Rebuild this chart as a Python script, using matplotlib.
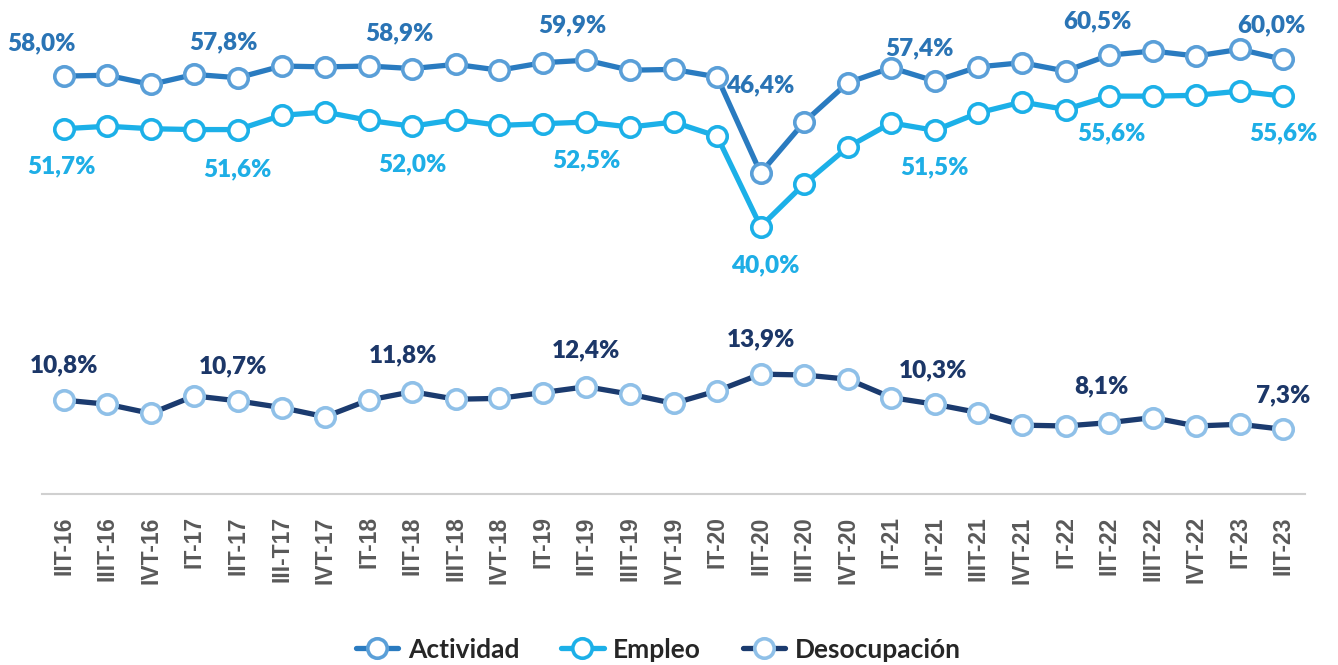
import matplotlib
matplotlib.use("Agg")
import matplotlib.pyplot as plt

# ---------------------------------------------------------------------------
# Data (percent)
# ---------------------------------------------------------------------------

quarters = ["IIT-16", "IIIT-16", "IVT-16", "IT-17", "IIT-17", "III-T17",
            "IVT-17", "IT-18", "IIT-18", "IIIT-18", "IVT-18", "IT-19",
            "IIT-19", "IIIT-19", "IVT-19", "IT-20", "IIT-20", "IIIT-20",
            "IVT-20", "IT-21", "IIT-21", "IIIT-21", "IVT-21", "IT-22",
            "IIT-22", "IIIT-22", "IVT-22", "IT-23", "IIT-23"]

actividad = [58.0, 58.1, 57.0, 58.2, 57.8, 59.2, 59.1, 59.2, 58.9, 59.4,
             58.7, 59.6, 59.9, 58.7, 58.8, 57.9, 46.4, 52.5, 57.2, 59.0,
             57.4, 59.1, 59.6, 58.6, 60.5, 61.0, 60.4, 61.2, 60.0]

empleo = [51.7, 52.0, 51.7, 51.6, 51.6, 53.3, 53.7, 52.7, 52.0, 52.8,
          52.1, 52.3, 52.5, 51.9, 52.5, 50.8, 40.0, 45.1, 49.5, 52.4,
          51.5, 53.6, 54.9, 54.0, 55.6, 55.6, 55.7, 56.2, 55.6]

desocupacion = [10.8, 10.3, 9.2, 11.3, 10.7, 9.9, 8.8, 10.8, 11.8, 10.9,
                11.0, 11.7, 12.4, 11.5, 10.4, 11.9, 13.9, 13.8, 13.3, 11.1,
                10.3, 9.3, 7.8, 7.7, 8.1, 8.7, 7.7, 7.9, 7.3]

# second quarter of every year gets a value label
labelled = [0, 4, 8, 12, 16, 20, 24, 28]

# label offsets in pixels (dx, dy up)
act_offsets = [(-22, 33), (-15, 35), (-13, 35), (-14, 35), (0, 88),
               (-15, 33), (-12, 34), (-12, 34)]
emp_offsets = [(-2, -38), (-1, -40), (0, -38), (0, -38), (5, -39),
               (0, -37), (2, -37), (0, -37)]
des_offsets = [(0, 35), (-5, 35), (-9, 36), (0, 36), (0, 35),
               (-2, 34), (-8, 36), (0, 34)]

# ---------------------------------------------------------------------------
# Style
# ---------------------------------------------------------------------------

ACT_LINE, ACT_EDGE, ACT_TEXT = "#2a7bc0", "#5a9fd8", "#2a74b5"
EMP_LINE, EMP_EDGE, EMP_TEXT = "#1cb0e8", "#1cb0e8", "#1eaee6"
DES_LINE, DES_EDGE, DES_TEXT = "#1b3b6f", "#8fc0e8", "#1c3768"

LABEL_FONT = "Lato"
TICK_FONT = "Liberation Sans"


def line_kw(line_col, edge_col):
    return dict(color=line_col, linewidth=3.8, marker="o", markersize=14,
                markerfacecolor="white", markeredgecolor=edge_col,
                markeredgewidth=2.6, solid_capstyle="round")


def add_labels(ax, values, offsets, colour):
    for i, (dx, dy) in zip(labelled, offsets):
        txt = f"{values[i]:.1f}%".replace(".", ",")
        ax.annotate(txt, (i, values[i]), xytext=(dx, dy),
                    textcoords="offset pixels", ha="center", va="center",
                    fontsize=17.5, fontweight="heavy", color=colour,
                    fontfamily=LABEL_FONT, zorder=10)


# ---------------------------------------------------------------------------
# Figure
# ---------------------------------------------------------------------------

fig = plt.figure(figsize=(13.38, 6.65), dpi=100)
ax = fig.add_axes([0.0314, 0.2571, 0.944, 0.7278])
ax2 = ax.twinx()

x = list(range(len(quarters)))

l_act, = ax.plot(x, actividad, label="Actividad", zorder=3,
                 **line_kw(ACT_LINE, ACT_EDGE))
l_emp, = ax.plot(x, empleo, label="Empleo", zorder=3,
                 **line_kw(EMP_LINE, EMP_EDGE))
l_des, = ax2.plot(x, desocupacion, label="Desocupación", zorder=3,
                  **line_kw(DES_LINE, DES_EDGE))

add_labels(ax, actividad, act_offsets, ACT_TEXT)
add_labels(ax, empleo, emp_offsets, EMP_TEXT)
add_labels(ax2, desocupacion, des_offsets, DES_TEXT)

ax.set_xlim(-0.5, len(quarters) - 0.5)
ax.set_ylim(8.0, 65.9)
ax2.set_ylim(-0.44, 57.45)

for a in (ax, ax2):
    for side in ("top", "right", "left"):
        a.spines[side].set_visible(False)
    a.set_yticks([])
ax2.spines["bottom"].set_visible(False)
ax.spines["bottom"].set_color("#d0d0d0")
ax.spines["bottom"].set_linewidth(1.5)

ax.set_xticks(x)
ax.set_xticklabels(quarters, rotation=90, fontsize=16.5, fontweight="bold",
                   color="#595959", fontfamily=TICK_FONT)
ax.tick_params(axis="x", length=0, pad=16)

# --- Legend ---
leg = fig.legend(handles=[l_act, l_emp, l_des], loc="center",
                 bbox_to_anchor=(0.492, 0.023), ncol=3, frameon=False,
                 handlelength=1.6, handletextpad=0.35, columnspacing=1.6,
                 prop={"family": LABEL_FONT, "size": 19, "weight": "bold"})
for t in leg.get_texts():
    t.set_color("#262626")

fig.savefig("out.png", dpi=100, facecolor="white")
